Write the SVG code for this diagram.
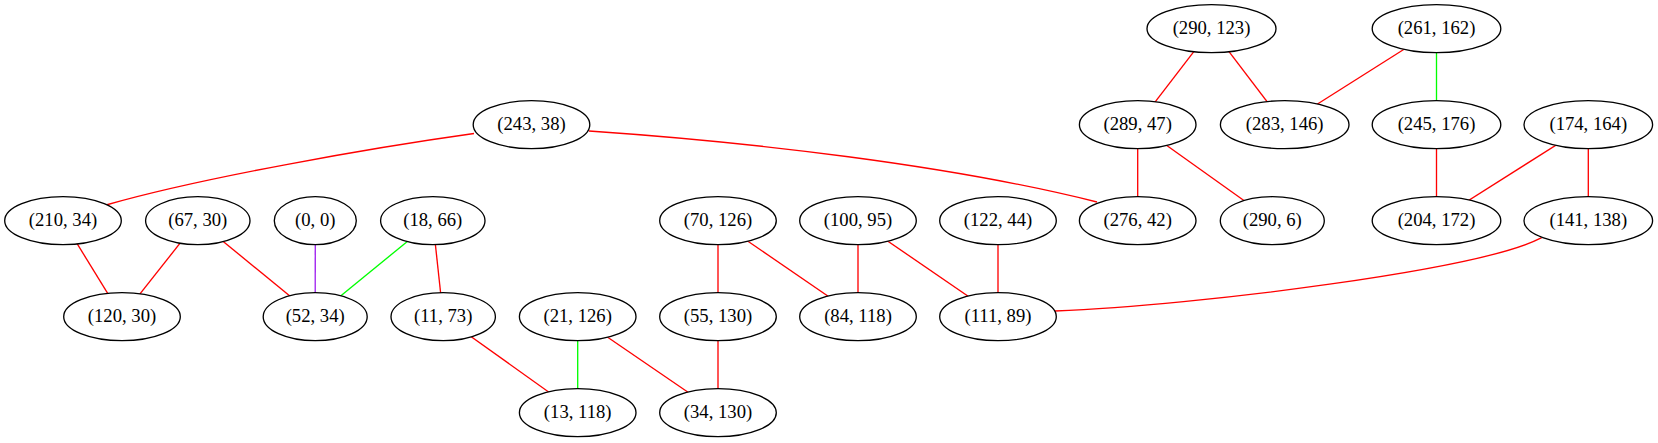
<svg xmlns="http://www.w3.org/2000/svg" width="1658" height="443" viewBox="0 0 1658 443">
<style>
.n ellipse{fill:#fff;stroke:#000;stroke-width:1.33}
.n text{font-family:"Liberation Serif","Times New Roman",serif;font-size:18.67px;text-anchor:middle;fill:#000}
.e path,.e line{fill:none;stroke-width:1.33}
.r{stroke:#ff0000}
.g{stroke:#00ff00}
.p{stroke:#a020f0}
</style>
<rect width="1658" height="443" fill="#fff"/>
<g id="connectors" class="e">
<line class="r" x1="1211.5" y1="28.7" x2="1137.7" y2="124.7"/>
<line class="r" x1="1211.5" y1="28.7" x2="1284.7" y2="124.7"/>
<line class="r" x1="1436.5" y1="28.7" x2="1284.7" y2="124.7"/>
<line class="g" x1="1436.5" y1="28.7" x2="1436.5" y2="124.7"/>
<line class="r" x1="1436.5" y1="124.7" x2="1436.5" y2="220.7"/>
<line class="r" x1="1588.3" y1="124.7" x2="1436.5" y2="220.7"/>
<line class="r" x1="1588.3" y1="124.7" x2="1588.3" y2="220.7"/>
<path class="r" d="M1541.7,237.7 C1480,270 1200,305 1055,311"/>
<line class="r" x1="1137.7" y1="124.7" x2="1137.7" y2="220.7"/>
<line class="r" x1="1137.7" y1="124.7" x2="1272.3" y2="220.7"/>
<path class="r" d="M474,133.5 C370,148 200,178 106,205"/>
<path class="r" d="M589,131 C750,142 950,165 1097,202"/>
<line class="r" x1="63" y1="220.7" x2="122" y2="316.7"/>
<line class="r" x1="197.8" y1="220.7" x2="122" y2="316.7"/>
<line class="r" x1="197.8" y1="220.7" x2="315.2" y2="316.7"/>
<line class="p" x1="315.3" y1="220.7" x2="315.2" y2="316.7"/>
<line class="g" x1="432.8" y1="220.7" x2="315.2" y2="316.7"/>
<line class="r" x1="432.8" y1="220.7" x2="443.2" y2="316.7"/>
<line class="r" x1="443.2" y1="316.7" x2="577.7" y2="412.7"/>
<line class="g" x1="577.7" y1="316.7" x2="577.7" y2="412.7"/>
<line class="r" x1="577.7" y1="316.7" x2="718" y2="412.7"/>
<line class="r" x1="718" y1="220.7" x2="718" y2="316.7"/>
<line class="r" x1="718" y1="220.7" x2="858" y2="316.7"/>
<line class="r" x1="718" y1="316.7" x2="718" y2="412.7"/>
<line class="r" x1="858" y1="220.7" x2="858" y2="316.7"/>
<line class="r" x1="858" y1="220.7" x2="998" y2="316.7"/>
<line class="r" x1="998" y1="220.7" x2="998" y2="316.7"/>
</g>
<g id="n290_123" class="n"><ellipse cx="1211.5" cy="28.7" rx="64.5" ry="24"/><text x="1211.5" y="34.3">(290, 123)</text></g>
<g id="n261_162" class="n"><ellipse cx="1436.5" cy="28.7" rx="64.3" ry="24"/><text x="1436.5" y="34.3">(261, 162)</text></g>
<g id="n243_38" class="n"><ellipse cx="531.5" cy="124.7" rx="58.3" ry="24"/><text x="531.5" y="130.3">(243, 38)</text></g>
<g id="n289_47" class="n"><ellipse cx="1137.7" cy="124.7" rx="58.3" ry="24"/><text x="1137.7" y="130.3">(289, 47)</text></g>
<g id="n283_146" class="n"><ellipse cx="1284.7" cy="124.7" rx="64.3" ry="24"/><text x="1284.7" y="130.3">(283, 146)</text></g>
<g id="n245_176" class="n"><ellipse cx="1436.5" cy="124.7" rx="64.3" ry="24"/><text x="1436.5" y="130.3">(245, 176)</text></g>
<g id="n174_164" class="n"><ellipse cx="1588.3" cy="124.7" rx="64.3" ry="24"/><text x="1588.3" y="130.3">(174, 164)</text></g>
<g id="n210_34" class="n"><ellipse cx="63" cy="220.7" rx="58.3" ry="24"/><text x="63" y="226.3">(210, 34)</text></g>
<g id="n67_30" class="n"><ellipse cx="197.8" cy="220.7" rx="52.2" ry="24"/><text x="197.8" y="226.3">(67, 30)</text></g>
<g id="n0_0" class="n"><ellipse cx="315.3" cy="220.7" rx="41" ry="24"/><text x="315.3" y="226.3">(0, 0)</text></g>
<g id="n18_66" class="n"><ellipse cx="432.8" cy="220.7" rx="52.2" ry="24"/><text x="432.8" y="226.3">(18, 66)</text></g>
<g id="n70_126" class="n"><ellipse cx="718" cy="220.7" rx="58.3" ry="24"/><text x="718" y="226.3">(70, 126)</text></g>
<g id="n100_95" class="n"><ellipse cx="858" cy="220.7" rx="58.3" ry="24"/><text x="858" y="226.3">(100, 95)</text></g>
<g id="n122_44" class="n"><ellipse cx="998" cy="220.7" rx="58.3" ry="24"/><text x="998" y="226.3">(122, 44)</text></g>
<g id="n276_42" class="n"><ellipse cx="1137.7" cy="220.7" rx="58.3" ry="24"/><text x="1137.7" y="226.3">(276, 42)</text></g>
<g id="n290_6" class="n"><ellipse cx="1272.3" cy="220.7" rx="52" ry="24"/><text x="1272.3" y="226.3">(290, 6)</text></g>
<g id="n204_172" class="n"><ellipse cx="1436.5" cy="220.7" rx="64.3" ry="24"/><text x="1436.5" y="226.3">(204, 172)</text></g>
<g id="n141_138" class="n"><ellipse cx="1588.3" cy="220.7" rx="64.3" ry="24"/><text x="1588.3" y="226.3">(141, 138)</text></g>
<g id="n120_30" class="n"><ellipse cx="122" cy="316.7" rx="58.3" ry="24"/><text x="122" y="322.3">(120, 30)</text></g>
<g id="n52_34" class="n"><ellipse cx="315.2" cy="316.7" rx="52" ry="24"/><text x="315.2" y="322.3">(52, 34)</text></g>
<g id="n11_73" class="n"><ellipse cx="443.2" cy="316.7" rx="52.2" ry="24"/><text x="443.2" y="322.3">(11, 73)</text></g>
<g id="n21_126" class="n"><ellipse cx="577.7" cy="316.7" rx="58.3" ry="24"/><text x="577.7" y="322.3">(21, 126)</text></g>
<g id="n55_130" class="n"><ellipse cx="718" cy="316.7" rx="58.3" ry="24"/><text x="718" y="322.3">(55, 130)</text></g>
<g id="n84_118" class="n"><ellipse cx="858" cy="316.7" rx="58.3" ry="24"/><text x="858" y="322.3">(84, 118)</text></g>
<g id="n111_89" class="n"><ellipse cx="998" cy="316.7" rx="58.3" ry="24"/><text x="998" y="322.3">(111, 89)</text></g>
<g id="n13_118" class="n"><ellipse cx="577.7" cy="412.7" rx="58.3" ry="24"/><text x="577.7" y="418.3">(13, 118)</text></g>
<g id="n34_130" class="n"><ellipse cx="718" cy="412.7" rx="58.3" ry="24"/><text x="718" y="418.3">(34, 130)</text></g>
</svg>
